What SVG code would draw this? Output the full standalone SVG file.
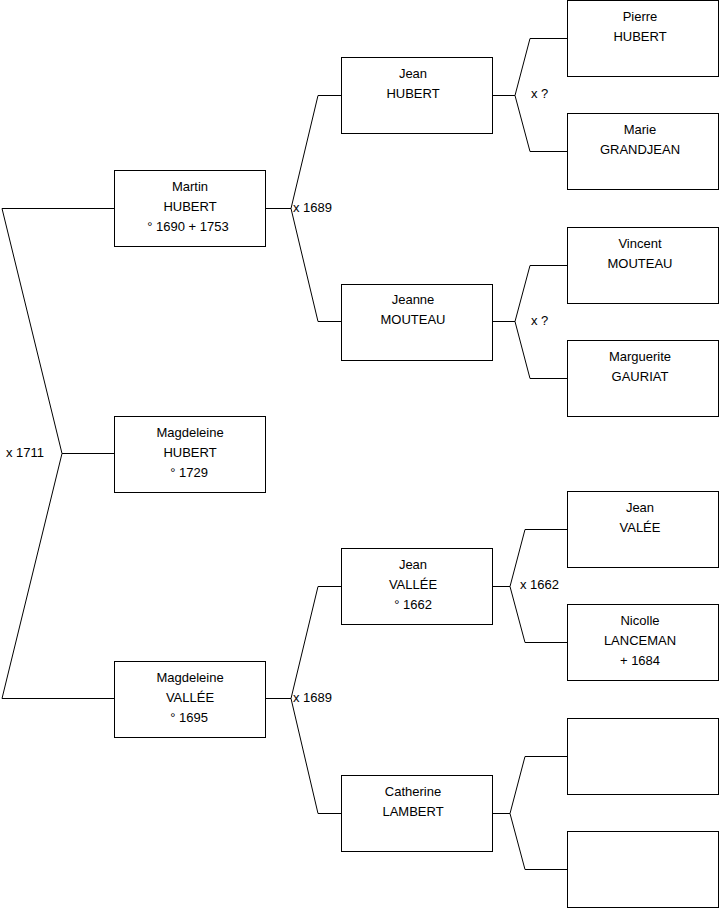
<svg xmlns="http://www.w3.org/2000/svg" width="719" height="908" viewBox="0 0 719 908">
<style>
.box{fill:#fff;stroke:#000;stroke-width:1}
.c{fill:none;stroke:#000;stroke-width:1}
text{font-family:"Liberation Sans",Arial,sans-serif;font-size:13px;fill:#000}
.m{text-anchor:middle}
</style>
<rect width="719" height="908" fill="#fff"/>
<g id="connectors">
<polyline class="c" points="114,208.5 2,208.5 62,453.5 2,698.5 114,698.5"/>
<line class="c" x1="62" y1="453.5" x2="114" y2="453.5"/>
<polyline class="c" points="341,95.5 318,95.5 291,208.5 318,321.5 341,321.5"/>
<line class="c" x1="265" y1="208.5" x2="291" y2="208.5"/>
<polyline class="c" points="341,586.5 318,586.5 291,698.5 318,813.5 341,813.5"/>
<line class="c" x1="265" y1="698.5" x2="291" y2="698.5"/>
<polyline class="c" points="567,38.5 530,38.5 515,95.5 530,151.5 567,151.5"/>
<line class="c" x1="492" y1="95.5" x2="515" y2="95.5"/>
<polyline class="c" points="567,265.5 530,265.5 515,321.5 530,378.5 567,378.5"/>
<line class="c" x1="492" y1="321.5" x2="515" y2="321.5"/>
<polyline class="c" points="567,529.5 525,529.5 510,586.5 525,642.5 567,642.5"/>
<line class="c" x1="492" y1="586.5" x2="510" y2="586.5"/>
<polyline class="c" points="567,756.5 525,756.5 510,813.5 525,869.5 567,869.5"/>
<line class="c" x1="492" y1="813.5" x2="510" y2="813.5"/>
<text x="6" y="457">x 1711</text>
<text x="293" y="212">x 1689</text>
<text x="293" y="702">x 1689</text>
<text x="531" y="98">x ?</text>
<text x="531" y="325">x ?</text>
<text x="520" y="589">x 1662</text>
</g>
<g id="martin"><rect class="box" x="114.5" y="170.5" width="151" height="76"/><text class="m" x="190" y="191">Martin</text><text class="m" x="190" y="211">HUBERT</text><text class="m" x="188" y="231">° 1690 + 1753</text></g>
<g id="magdeleine-hubert"><rect class="box" x="114.5" y="416.5" width="151" height="76"/><text class="m" x="190" y="437">Magdeleine</text><text class="m" x="190" y="457">HUBERT</text><text class="m" x="189" y="477">° 1729</text></g>
<g id="magdeleine-vallee"><rect class="box" x="114.5" y="661.5" width="151" height="76"/><text class="m" x="190" y="682">Magdeleine</text><text class="m" x="190" y="702">VALLÉE</text><text class="m" x="189" y="722">° 1695</text></g>
<g id="jean-hubert"><rect class="box" x="341.5" y="57.5" width="151" height="76"/><text class="m" x="413" y="78">Jean</text><text class="m" x="413" y="98">HUBERT</text></g>
<g id="jeanne-mouteau"><rect class="box" x="341.5" y="284.5" width="151" height="76"/><text class="m" x="413" y="304">Jeanne</text><text class="m" x="413" y="324">MOUTEAU</text></g>
<g id="jean-vallee"><rect class="box" x="341.5" y="548.5" width="151" height="76"/><text class="m" x="413" y="569">Jean</text><text class="m" x="413" y="589">VALLÉE</text><text class="m" x="413" y="609">° 1662</text></g>
<g id="catherine-lambert"><rect class="box" x="341.5" y="775.5" width="151" height="76"/><text class="m" x="413" y="796">Catherine</text><text class="m" x="413" y="816">LAMBERT</text></g>
<g id="pierre-hubert"><rect class="box" x="567.5" y="0.5" width="151" height="76"/><text class="m" x="640" y="21">Pierre</text><text class="m" x="640" y="41">HUBERT</text></g>
<g id="marie-grandjean"><rect class="box" x="567.5" y="113.5" width="151" height="76"/><text class="m" x="640" y="134">Marie</text><text class="m" x="640" y="154">GRANDJEAN</text></g>
<g id="vincent-mouteau"><rect class="box" x="567.5" y="227.5" width="151" height="76"/><text class="m" x="640" y="248">Vincent</text><text class="m" x="640" y="268">MOUTEAU</text></g>
<g id="marguerite-gauriat"><rect class="box" x="567.5" y="340.5" width="151" height="76"/><text class="m" x="640" y="361">Marguerite</text><text class="m" x="640" y="381">GAURIAT</text></g>
<g id="jean-valee"><rect class="box" x="567.5" y="491.5" width="151" height="76"/><text class="m" x="640" y="512">Jean</text><text class="m" x="640" y="532">VALÉE</text></g>
<g id="nicolle-lanceman"><rect class="box" x="567.5" y="604.5" width="151" height="76"/><text class="m" x="640" y="625">Nicolle</text><text class="m" x="640" y="645">LANCEMAN</text><text class="m" x="640" y="665">+ 1684</text></g>
<g id="unknown-1"><rect class="box" x="567.5" y="718.5" width="151" height="76"/></g>
<g id="unknown-2"><rect class="box" x="567.5" y="831.5" width="151" height="76"/></g>
</svg>
